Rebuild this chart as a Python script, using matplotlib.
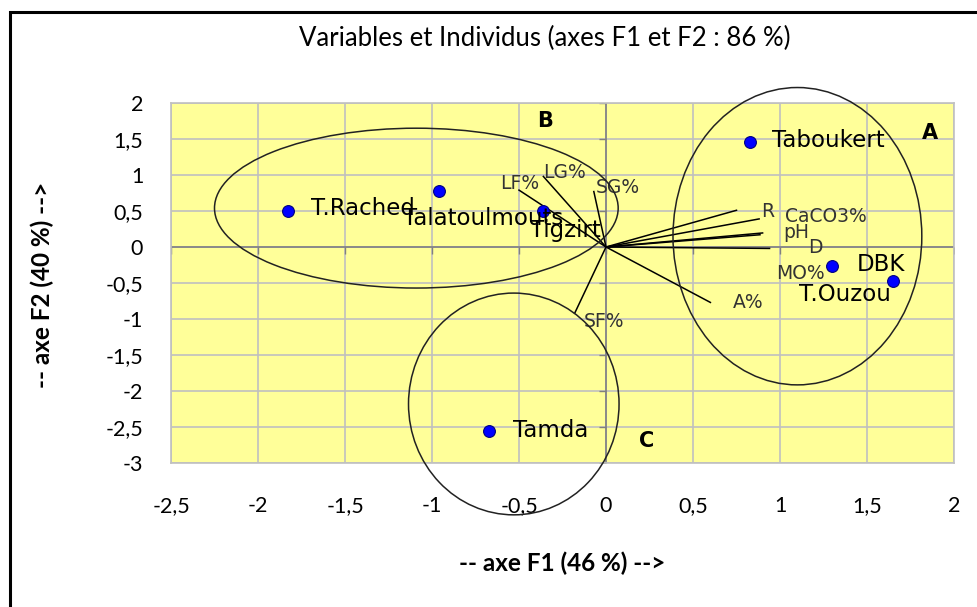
import numpy as np
import matplotlib
matplotlib.use("Agg")
import matplotlib.pyplot as plt
from matplotlib.patches import Ellipse, Rectangle
from matplotlib.ticker import FuncFormatter
from matplotlib.markers import TICKLEFT, TICKDOWN

plt.rcParams["font.family"] = ["Lato", "DejaVu Sans"]

# individus (coordonnees sur F1 / F2)
ind_names = ["T.Rached", "Talatoulmouts", "Tigzirt", "Taboukert", "DBK", "T.Ouzou", "Tamda"]
ind_f1 = [-1.83, -0.96, -0.36, 0.83, 1.30, 1.65, -0.67]
ind_f2 = [0.50, 0.78, 0.50, 1.46, -0.26, -0.47, -2.55]

# variables (extremites des vecteurs)
var_names = ["R", "CaCO3%", "pH", "MO%", "D", "A%", "LF%", "LG%", "SG%", "SF%"]
var_f1 = [0.75, 0.88, 0.90, 0.885, 0.94, 0.60, -0.50, -0.36, -0.07, -0.18]
var_f2 = [0.51, 0.39, 0.195, 0.17, -0.02, -0.77, 0.79, 0.98, 0.77, -0.92]

# groupes : centre, largeur, hauteur
grp_names = ["A", "B", "C"]
grp_cx = [1.10, -1.09, -0.53]
grp_cy = [0.15, 0.54, -2.18]
grp_w = [1.43, 2.32, 1.21]
grp_h = [4.13, 2.22, 3.08]
grp_lab_x = [1.86, -0.35, 0.235]
grp_lab_y = [1.58, 1.75, -2.70]

# decalages des etiquettes (pixels)
ind_off = {"T.Rached": (23, 2), "Talatoulmouts": (-36, -28), "Tigzirt": (-13, -20),
           "Taboukert": (22, 1), "DBK": (25, 1), "T.Ouzou": (-94, -14), "Tamda": (24, 0)}
var_off = {"R": (31, -1), "CaCO3%": (67, 2), "pH": (34, 0), "MO%": (40, -39),
           "D": (46, 1), "A%": (38, 0), "LF%": (1, 7), "LG%": (21, 4),
           "SG%": (24, 4), "SF%": (29, -8)}

fig = plt.figure(figsize=(9.77, 6.07), dpi=100)
ax = fig.add_axes([171 / 977, 1 - 463 / 607, (954 - 171) / 977, (463 - 103) / 607])
ax.set_facecolor("#ffff99")

ax.set_xlim(-2.5, 2)
ax.set_ylim(-3, 2)
ax.set_xticks(np.arange(-2.5, 2.01, 0.5))
ax.set_yticks(np.arange(-3, 2.01, 0.5))
fmt = FuncFormatter(lambda v, p: ("%g" % v).replace(".", ","))
ax.xaxis.set_major_formatter(fmt)
ax.yaxis.set_major_formatter(fmt)
ax.tick_params(length=0, labelsize=15.5, colors="black")
ax.tick_params(axis="x", pad=24)
ax.tick_params(axis="y", pad=20)
ax.grid(True, color="#c0c0c0", lw=1.2)
ax.set_axisbelow(True)
for s in ax.spines.values():
    s.set_color("#c0c0c0")
    s.set_linewidth(1.2)

# axes passant par l'origine
ax.axhline(0, color="#808080", lw=1.2, zorder=1)
ax.axvline(0, color="#808080", lw=1.2, zorder=1)
ax.plot(np.zeros(11), np.arange(-3, 2.01, 0.5), ls="none", marker=TICKLEFT,
        ms=5, color="#808080", zorder=1)
ax.plot(np.arange(-2.5, 2.01, 0.5), np.zeros(10), ls="none", marker=TICKDOWN,
        ms=5, color="#808080", zorder=1)

# vecteurs des variables
for name, x, y in zip(var_names, var_f1, var_f2):
    ax.plot([0, x], [0, y], color="black", lw=1.1, zorder=3)
    ax.annotate(name, (x, y), xytext=var_off[name], textcoords="offset pixels",
                ha="center", va="center", fontsize=13.5, color="#333333",
                family="DejaVu Sans", zorder=4)

# individus
ax.plot(ind_f1, ind_f2, ls="none", marker="o", ms=8.5, mfc="#0000ff",
        mec="#000080", mew=0.8, zorder=5)
for name, x, y in zip(ind_names, ind_f1, ind_f2):
    ax.annotate(name, (x, y), xytext=ind_off[name], textcoords="offset pixels",
                ha="left", va="center", fontsize=16.5, color="black",
                family="DejaVu Sans", zorder=6)

# groupes
for name, cx, cy, w, h, lx, ly in zip(grp_names, grp_cx, grp_cy, grp_w, grp_h,
                                       grp_lab_x, grp_lab_y):
    ax.add_patch(Ellipse((cx, cy), w, h, fill=False, ec="#222222", lw=1.1,
                         clip_on=False, zorder=4))
    ax.text(lx, ly, name, ha="center", va="center", fontsize=15,
            fontweight="bold", family="DejaVu Sans", zorder=6)

fig.text(545 / 977, 1 - 38 / 607, "Variables et Individus (axes F1 et F2 : 86 %)",
         ha="center", va="center", fontsize=18.5)
fig.text(562 / 977, 1 - 563 / 607, "-- axe F1 (46 %) -->", ha="center",
         va="center", fontsize=17.5, fontweight="bold")
fig.text(42 / 977, 1 - 285 / 607, "-- axe F2 (40 %) -->", ha="center",
         va="center", fontsize=17.5, fontweight="bold", rotation=90)

# cadre du graphique
fig.patches.append(Rectangle((10 / 977, -0.05), 1.1, 1 - 12 / 607 + 0.05,
                             transform=fig.transFigure, fill=False,
                             ec="black", lw=2.2))

fig.savefig("out.png", dpi=100)
